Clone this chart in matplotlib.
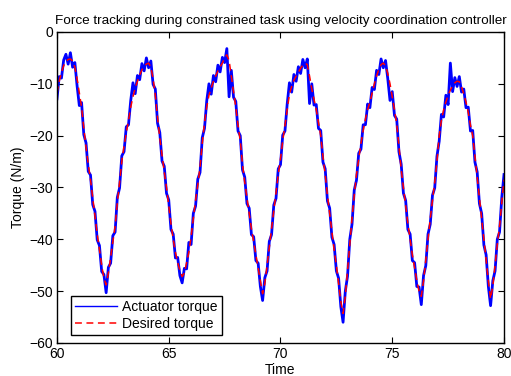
import numpy as np
import matplotlib
matplotlib.use('Agg')
import matplotlib.pyplot as plt

plt.rcParams['font.family'] = ['Liberation Sans', 'DejaVu Sans']

# time axis: 60 s .. 80 s, one sample every 0.1 s
t_start = 60.0
t_step = 0.1

# desired torque
desired = [
    -11.8, -9.5, -7.8, -6.5, -5.7, -5.3, -5.2, -5.6, -6.8, -9.0,          # 60
    -11.8, -14.5, -18.5, -22.3, -25.5, -28.5, -32.0, -35.5, -39.0, -42.0, # 61
    -45.0, -47.5, -48.8, -46.5, -43.5, -40.5, -37.5, -33.0, -29.0, -25.0, # 62
    -22.0, -19.5, -17.0, -14.5, -12.5, -10.8, -9.5, -8.3, -7.3, -6.6,     # 63
    -6.2, -6.0, -6.8, -9.0, -12.2, -16.5, -20.5, -23.8, -27.0, -30.0,     # 64
    -33.5, -37.0, -40.0, -42.5, -44.5, -46.0, -47.2, -46.5, -44.5, -42.5, # 65
    -39.5, -36.0, -32.5, -29.5, -26.0, -21.5, -17.5, -14.5, -12.2, -10.8, # 66
    -9.5, -8.5, -7.5, -6.7, -6.0, -5.0, -4.4, -5.5, -8.5, -11.5,          # 67
    -14.5, -18.0, -21.0, -25.5, -29.0, -32.0, -35.0, -38.0, -40.5, -43.0, # 68
    -45.5, -48.0, -50.5, -48.5, -45.0, -41.5, -38.0, -34.5, -31.0, -27.5, # 69
    -24.5, -21.0, -18.0, -15.0, -12.0, -10.5, -9.3, -8.5, -7.8, -7.0,     # 70
    -6.4, -6.0, -6.3, -8.5, -11.0, -13.0, -15.0, -17.5, -20.0, -24.0,     # 71
    -27.5, -31.5, -35.0, -38.5, -42.0, -45.0, -48.5, -52.0, -54.3, -51.0, # 72
    -46.0, -41.0, -36.0, -31.5, -27.5, -24.5, -21.5, -19.0, -16.8, -15.0, # 73
    -13.5, -11.8, -10.0, -8.5, -7.2, -6.3, -6.0, -6.5, -8.0, -10.0,       # 74
    -12.5, -15.0, -17.8, -22.0, -26.5, -30.0, -33.5, -37.0, -40.0, -43.0, # 75
    -45.5, -48.0, -50.0, -51.0, -48.0, -44.0, -40.0, -36.0, -32.5, -29.0, # 76
    -25.0, -20.0, -17.0, -15.0, -13.5, -12.2, -11.2, -10.4, -9.8, -9.5,   # 77
    -9.6, -10.5, -12.0, -13.5, -15.5, -18.0, -20.0, -24.0, -28.0, -32.0,  # 78
    -36.0, -40.0, -44.0, -48.0, -51.5, -49.0, -45.0, -41.0, -37.5, -33.0, # 79
    -28.5,                                                                # 80
]

actuator = [
    -12.9, -8.6, -8.9, -5.4, -4.3, -6.2, -4.0, -6.8, -5.9, -10.4,         # 60
    -14.2, -13.6, -19.8, -21.4, -26.9, -27.6, -33.3, -34.6, -40.1, -41.2, # 61
    -46.2, -46.8, -50.3, -45.4, -44.6, -39.3, -38.6, -31.9, -30.1, -23.9, # 62
    -23.1, -18.3, -17.9, -13.2, -9.8, -11.9, -8.4, -9.2, -6.1, -7.5,      # 63
    -5.0, -6.9, -5.6, -10.1, -11.0, -17.6, -19.4, -24.9, -25.9, -31.1,    # 64
    -32.4, -38.1, -39.0, -43.6, -43.5, -47.0, -48.4, -45.6, -45.7, -40.6, # 65
    -41.0, -35.0, -33.6, -28.4, -27.1, -20.4, -18.6, -13.3, -10.0, -12.0, # 66
    -8.4, -9.6, -6.4, -7.7, -4.9, -5.9, -3.2, -12.5, -7.4, -12.6,         # 67
    -13.4, -19.1, -20.0, -26.6, -28.0, -33.1, -34.0, -39.1, -39.5, -44.1, # 68
    -44.6, -49.1, -51.8, -47.4, -46.1, -40.4, -39.1, -33.4, -32.1, -26.4, # 69
    -25.6, -19.9, -19.1, -13.9, -9.8, -11.6, -8.2, -9.5, -6.7, -8.0,      # 70
    -5.3, -6.9, -5.2, -13.8, -10.0, -14.1, -14.0, -18.6, -19.0, -25.1,    # 71
    -26.4, -32.6, -34.0, -39.6, -41.0, -46.1, -47.5, -53.0, -56.0, -50.0, # 72
    -47.1, -40.0, -37.1, -30.5, -28.6, -23.4, -22.6, -17.9, -17.9, -13.9, # 73
    -14.6, -10.7, -11.1, -7.4, -8.2, -5.2, -6.9, -5.5, -9.0, -13.2,       # 74
    -11.5, -16.1, -16.8, -23.1, -25.5, -31.1, -32.5, -38.1, -39.0, -44.1, # 75
    -44.5, -49.1, -49.2, -52.6, -47.0, -45.1, -39.0, -37.1, -31.5, -30.1, # 76
    -24.0, -21.1, -15.9, -16.4, -12.2, -14.0, -6.0, -11.5, -8.8, -10.5,   # 77
    -8.6, -11.6, -11.0, -14.6, -14.5, -19.1, -19.0, -25.1, -27.0, -33.1,  # 78
    -35.0, -41.1, -43.0, -49.1, -52.8, -48.0, -46.1, -40.0, -38.6, -32.0, # 79
    -27.5,                                                                # 80
]

time = t_start + t_step * np.arange(len(desired))

fig = plt.figure(figsize=(5.11, 3.76), dpi=100)
ax = fig.add_axes([0.1115, 0.0878, 0.8748, 0.8271])

ax.plot(time, actuator, '-', color='#0000ff', linewidth=2.0, label='Actuator torque')
ax.plot(time, desired, '--', color='#ff0000', linewidth=1.1, dashes=(4.5, 3),
        label='Desired torque')

ax.set_xlim(60, 80)
ax.set_ylim(-60, 0)
ax.set_xticks([60, 65, 70, 75, 80])
ax.set_yticks([-60, -50, -40, -30, -20, -10, 0])
ax.tick_params(direction='in', length=4, width=0.8, labelsize=10,
               top=True, right=True, pad=3)
for s in ax.spines.values():
    s.set_linewidth(1.0)

ax.set_title('Force tracking during constrained task using velocity coordination controller',
             fontsize=9.7, pad=6)
ax.set_xlabel('Time', fontsize=10, labelpad=1)
ax.set_ylabel('Torque (N/m)', fontsize=10, labelpad=3)

leg = ax.legend(loc='lower left', bbox_to_anchor=(0.031, 0.026), borderaxespad=0,
                fontsize=10, handlelength=3.0, handletextpad=0.4,
                fancybox=False, edgecolor='black', framealpha=1,
                borderpad=0.3, labelspacing=0.2)
leg.get_frame().set_linewidth(1.0)
leg.get_lines()[0].set_linewidth(1.0)

plt.savefig('out.png', dpi=100)
